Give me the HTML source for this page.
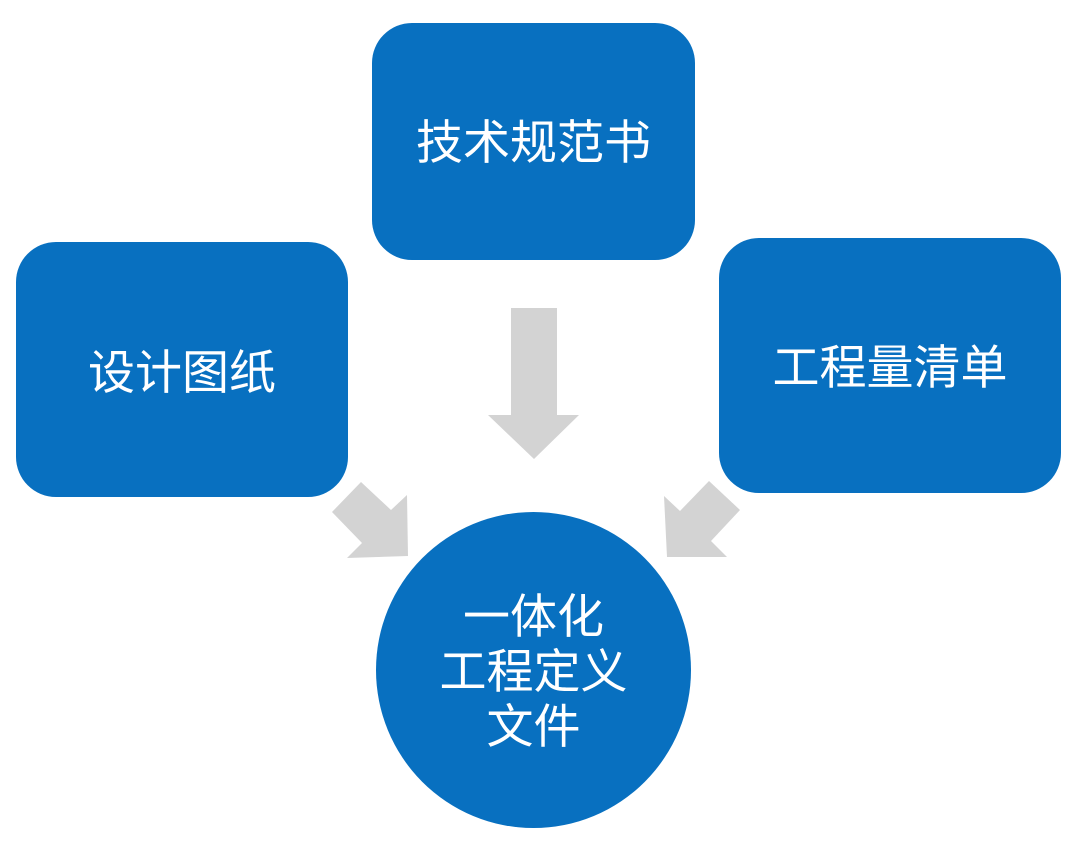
<!DOCTYPE html>
<html><head><meta charset="utf-8"><style>
body{margin:0;width:1080px;height:851px;background:#fff;overflow:hidden;position:relative;font-family:"Liberation Sans","Noto Sans CJK SC",sans-serif;}
.b{position:absolute;background:#0870c0;border-radius:40px;color:#fff;font-size:47px;display:flex;align-items:center;justify-content:center;text-align:center;line-height:55px}
</style></head><body>
<svg width="1080" height="851" style="position:absolute;left:0;top:0">
<g fill="#d3d3d3">
<polygon points="511,308 557,308 557,415 579,415 534,459 488,415 511,415"/>
<polygon points="361,482 332,512 362,543 347,558 408,556 407,495 391,510"/>
<polygon points="709,481 740,510 711,541 727,557 667,557 664,496 680,511"/>
</g>
</svg>
<div class="b" style="left:372px;top:23px;width:323px;height:237px;padding-top:2px;box-sizing:border-box">技术规范书</div>
<div class="b" style="left:16px;top:242px;width:332px;height:255px;padding-top:6px;box-sizing:border-box">设计图纸</div>
<div class="b" style="left:719px;top:238px;width:342px;height:255px;padding-top:4px;box-sizing:border-box">工程量清单</div>
<div class="b" style="left:376px;top:512px;width:315px;height:316px;border-radius:50%;padding-top:2px;box-sizing:border-box">一体化<br>工程定义<br>文件</div>
</body></html>
